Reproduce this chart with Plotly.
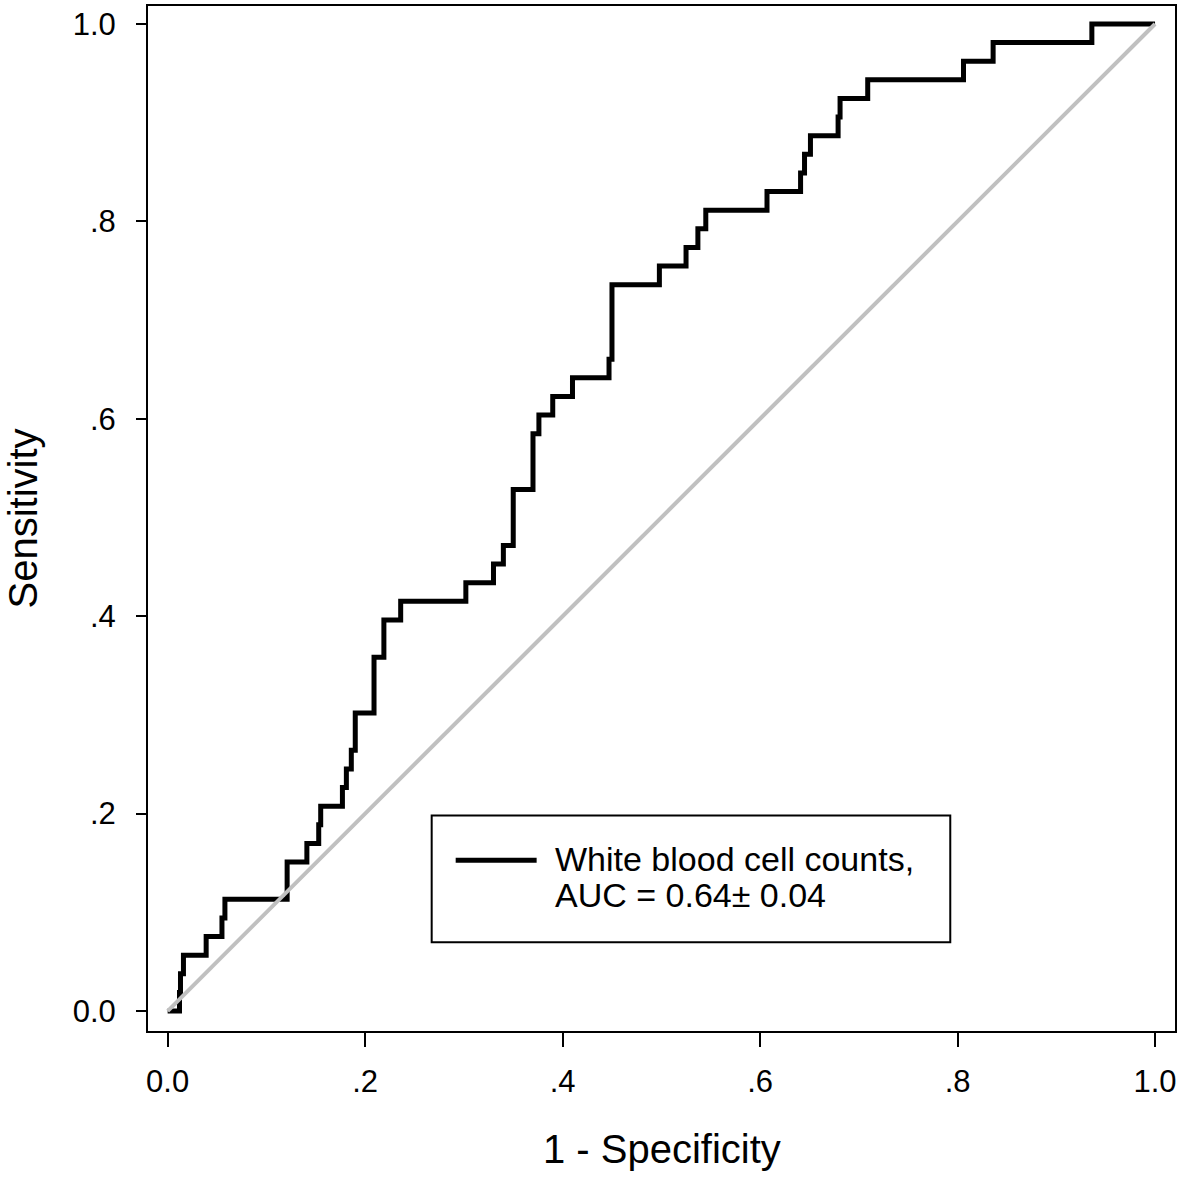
import plotly.graph_objects as go

# ROC curve vertices (1 - specificity, sensitivity); steps drawn horizontal-then-vertical
fpr = [0.000, 0.012, 0.013, 0.016, 0.039, 0.055, 0.058, 0.121, 0.141, 0.153, 0.155,
       0.177, 0.181, 0.186, 0.190, 0.209, 0.219, 0.236, 0.302, 0.330, 0.340, 0.350,
       0.370, 0.376, 0.390, 0.410, 0.447, 0.450, 0.498, 0.515, 0.525, 0.537, 0.545,
       0.607, 0.641, 0.645, 0.651, 0.679, 0.681, 0.709, 0.806, 0.836, 0.936, 1.000]
n_pos = 53
tp_count = [0, 1, 2, 3, 4, 5, 6, 8, 9, 10, 11,
            12, 13, 14, 16, 19, 21, 22, 23, 24, 25, 28,
            31, 32, 33, 34, 35, 39, 40, 40, 41, 42, 43,
            44, 45, 46, 47, 48, 49, 50, 51, 52, 53, 53]
tpr = [c / n_pos for c in tp_count]

ref_x = [0.0, 1.0]
ref_y = [0.0, 1.0]

tick_vals = [0.0, 0.2, 0.4, 0.6, 0.8, 1.0]
tick_text = ["0.0", ".2", ".4", ".6", ".8", "1.0"]

legend_lines = ["White blood cell counts,", "AUC = 0.64\u00b1 0.04"]

FONT = "Arial, 'Liberation Sans', Helvetica, sans-serif"

fig = go.Figure()
fig.add_trace(go.Scatter(x=fpr, y=tpr, mode="lines", line=dict(color="black", width=5, shape="hv"),
                         name=legend_lines[0] + " " + legend_lines[1], showlegend=False))
fig.add_trace(go.Scatter(x=ref_x, y=ref_y, mode="lines", line=dict(color="#c0c0c0", width=4),
                         showlegend=False, hoverinfo="skip"))

# Legend box (drawn manually to match the reference's proportions)
fig.add_shape(type="rect", xref="x", yref="y", x0=0.2674, x1=0.7926, y0=0.0698, y1=0.1982,
              line=dict(color="black", width=2), fillcolor="white", layer="above")
fig.add_shape(type="line", xref="x", yref="y", x0=0.2917, x1=0.3737, y0=0.1527, y1=0.1527,
              line=dict(color="black", width=5), layer="above")
fig.add_annotation(x=0.3899, y=0.1542, xref="x", yref="y", text=legend_lines[0], showarrow=False,
                   xanchor="left", yanchor="middle", font=dict(size=34, color="black", family=FONT))
fig.add_annotation(x=0.3899, y=0.1173, xref="x", yref="y", text=legend_lines[1], showarrow=False,
                   xanchor="left", yanchor="middle", font=dict(size=34, color="black", family=FONT))

# Axis titles
fig.add_annotation(x=0.5, y=0, xref="paper", yref="paper", text="1 - Specificity", showarrow=False,
                   xanchor="center", yanchor="middle", yshift=-118,
                   font=dict(size=40, color="black", family=FONT))
fig.add_annotation(x=0, y=0.5, xref="paper", yref="paper", text="Sensitivity", showarrow=False,
                   xanchor="center", yanchor="middle", xshift=-126, textangle=-90,
                   font=dict(size=40, color="black", family=FONT))

axis_common = dict(showgrid=False, zeroline=False, showline=True, linecolor="black", linewidth=2,
                   mirror=True, ticks="outside", tickcolor="black", tickwidth=2,
                   tickvals=tick_vals, ticktext=tick_text,
                   tickfont=dict(size=31, color="black", family=FONT))

fig.update_layout(
    width=1181, height=1180,
    margin=dict(l=148, r=5, t=4, b=149),
    paper_bgcolor="white", plot_bgcolor="white",
    xaxis=dict(range=[-0.0199, 1.0202], ticklen=14, ticklabelstandoff=8, **axis_common),
    yaxis=dict(range=[-0.0202, 1.0182], ticklen=10, ticklabelstandoff=14, **axis_common),
    font=dict(family=FONT, color="black"),
)

fig.write_html("out.html", config={"displayModeBar": False},
               post_script="document.body.style.margin='0px';")
